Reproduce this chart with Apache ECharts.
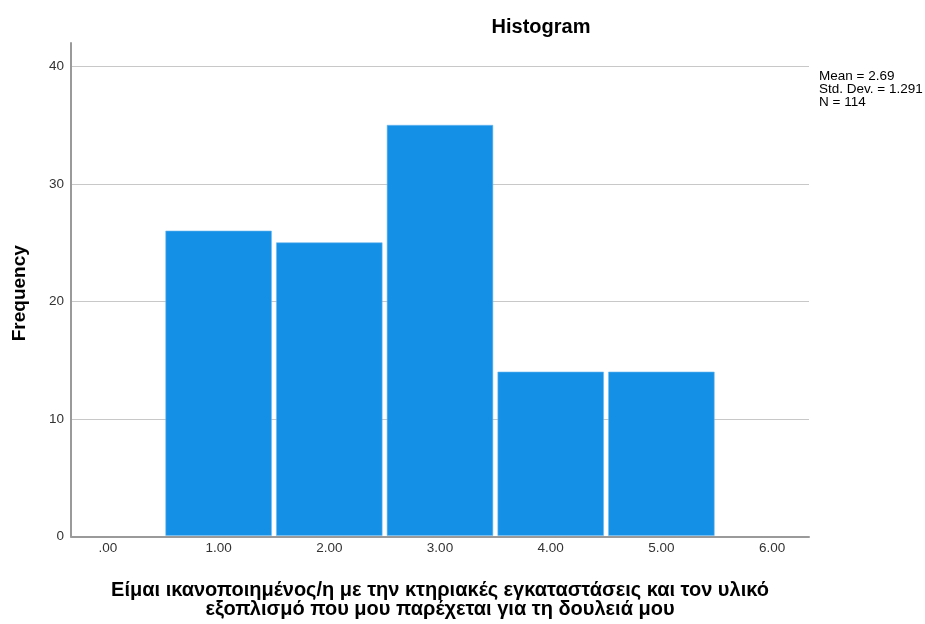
<!DOCTYPE html>
<html>
<head>
<meta charset="utf-8">
<script src="https://cdn.jsdelivr.net/npm/echarts@6/dist/echarts.min.js"></script>
<style>
html,body{margin:0;padding:0;background:#fff;overflow:hidden;}
#chart{width:925px;height:624px;}
</style>
</head>
<body>
<div id="chart"></div>
<script>
const binCenters = [1, 2, 3, 4, 5];
const frequencies = [26, 25, 35, 14, 14];
const xTickValues = [0, 1, 2, 3, 4, 5, 6];
const yTickValues = [0, 10, 20, 30, 40];
const statsLines = ['Mean = 2.69', 'Std. Dev. = 1.291', 'N = 114'];
const titleText = 'Histogram';
const xTitle = 'Είμαι ικανοποιημένος/η με την κτηριακές εγκαταστάσεις και τον υλικό\nεξοπλισμό που μου παρέχεται για τη δουλειά μου';
const yTitle = 'Frequency';

const FONT = '"Liberation Sans", Arial, sans-serif';
const chart = echarts.init(document.getElementById('chart'));

const data = binCenters.map((c, i) => [c, frequencies[i]]);

chart.setOption({
  backgroundColor: '#ffffff',
  animation: false,
  title: {
    text: titleText,
    left: 536,
    top: 12,
    textAlign: 'center',
    textStyle: { fontFamily: FONT, fontWeight: 'bold', fontSize: 20, color: '#000' }
  },
  grid: { left: 71, width: 738, top: 43, height: 497, containLabel: false },
  xAxis: {
    type: 'value',
    min: -1/3,
    max: 6 + 1/3,
    name: xTitle,
    nameLocation: 'middle',
    nameGap: 44,
    nameTextStyle: { fontFamily: FONT, fontWeight: 'bold', fontSize: 20, color: '#000', lineHeight: 19, verticalAlign: 'top' },
    axisLine: { show: true, onZero: false, lineStyle: { color: '#9a9a9a', width: 2 } },
    axisTick: { show: false },
    splitLine: { show: false },
    axisLabel: {
      customValues: xTickValues,
      fontFamily: FONT, fontSize: 13.5, color: '#333', margin: 5,
      formatter: v => (Math.abs(v) < 1e-9 ? '.00' : v.toFixed(2))
    }
  },
  yAxis: {
    type: 'value',
    min: 0,
    max: 42,
    interval: 10,
    name: yTitle,
    nameLocation: 'middle',
    nameRotate: 90,
    nameGap: 42,
    nameTextStyle: { fontFamily: FONT, fontWeight: 'bold', fontSize: 19, color: '#000', padding: [0, 7, 0, 0] },
    axisLine: { show: true, onZero: false, lineStyle: { color: '#9a9a9a', width: 2 } },
    axisTick: { show: false },
    splitLine: { show: true, showMaxLine: false, lineStyle: { color: '#c8c8c8', width: 1 } },
    axisLabel: {
      customValues: yTickValues,
      fontFamily: FONT, fontSize: 13.5, color: '#333', margin: 7
    }
  },
  series: [{
    type: 'custom',
    data: data,
    encode: { x: 0, y: 1 },
    renderItem: function (params, api) {
      const c = api.value(0), h = api.value(1);
      const p0 = api.coord([c - 0.5, 0]);
      const p1 = api.coord([c + 0.5, h]);
      return {
        type: 'rect',
        shape: { x: p0[0] + 2.5, y: p1[1], width: p1[0] - p0[0] - 5, height: p0[1] - p1[1] - 1 },
        style: { fill: '#1490e6', stroke: '#6bb8ee', lineWidth: 0.6 }
      };
    },
    z: 1
  }],
  graphic: [{
    type: 'text',
    left: 819,
    top: 69,
    style: {
      text: statsLines.join('\n'),
      fontFamily: FONT, fontSize: 13.5, lineHeight: 13, fill: '#000'
    }
  }]
});
</script>
</body>
</html>
